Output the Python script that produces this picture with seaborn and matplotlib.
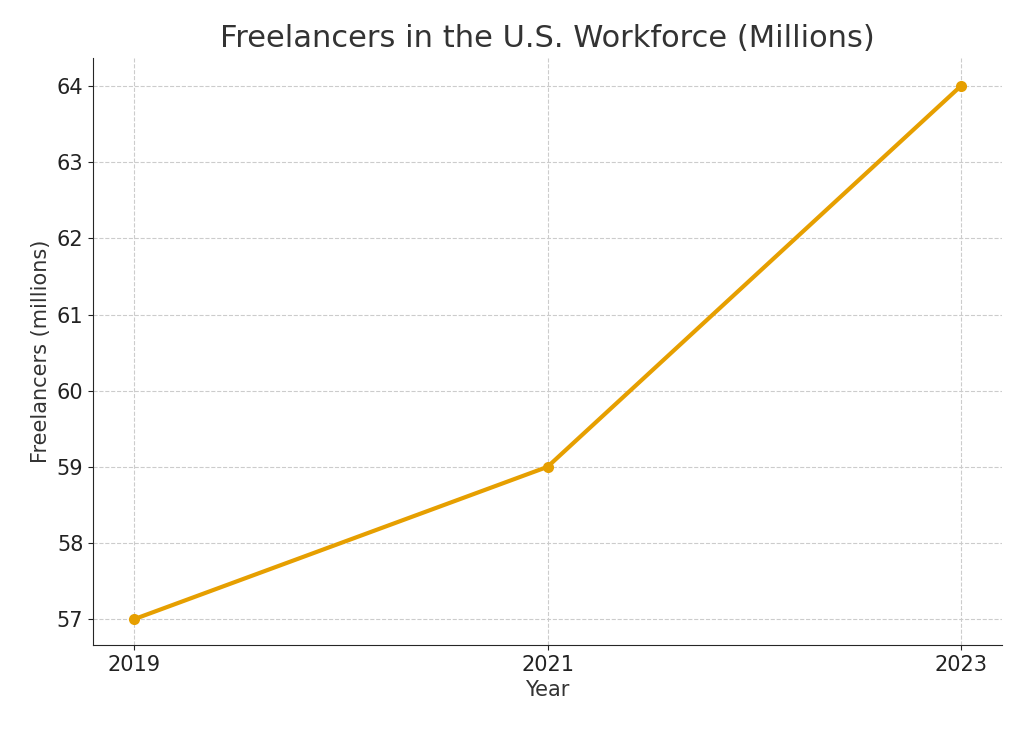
import matplotlib
matplotlib.use('Agg')
import matplotlib.pyplot as plt
import seaborn as sns
import pandas as pd

years = [2019, 2021, 2023]
freelancers = [57, 59, 64]

df = pd.DataFrame({'Year': years, 'Freelancers': freelancers})

sns.set_style('ticks')
plt.rcParams['font.family'] = ['DejaVu Sans']

fig = plt.figure(figsize=(10.24, 7.31), dpi=100)
ax = fig.add_axes([93 / 1024, 1 - 645 / 731, (1002 - 93) / 1024, (645 - 58) / 731])

sns.lineplot(data=df, x='Year', y='Freelancers', ax=ax, color='#E69F00',
             linewidth=3, marker='o', markersize=8, markeredgewidth=0)

ax.set_xlim(2018.8, 2023.2)
ax.set_ylim(56.66, 64.37)
ax.set_xticks(years)
ax.set_xticklabels([str(y) for y in years])
ax.grid(True, linestyle='--', color='#cccccc', linewidth=0.8)
ax.tick_params(labelsize=15, colors='#222222')
ax.set_xlabel('Year', fontsize=15, color='#333333')
ax.set_ylabel('Freelancers (millions)', fontsize=15, color='#333333')
ax.set_title('Freelancers in the U.S. Workforce (Millions)', fontsize=22,
             color='#333333', pad=8)
sns.despine(ax=ax)

fig.savefig('out.png', dpi=100)
